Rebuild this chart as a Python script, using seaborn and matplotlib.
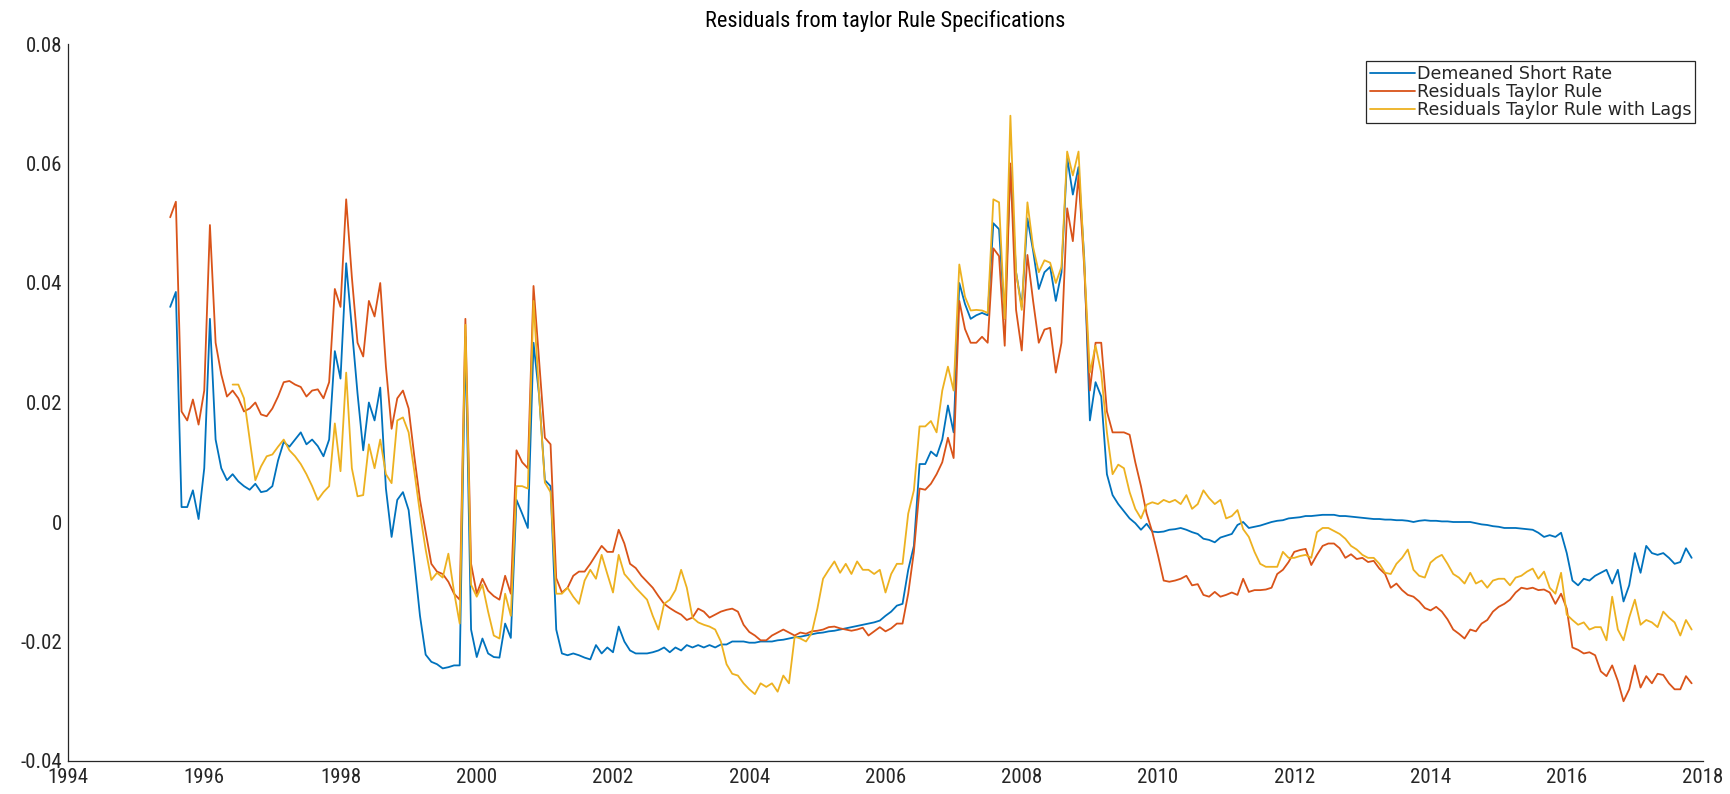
import numpy as np
import pandas as pd
import matplotlib
matplotlib.use("Agg")
import matplotlib.pyplot as plt
import seaborn as sns
from matplotlib import font_manager as fm

# ---------------- data ----------------
title = "Residuals from taylor Rule Specifications"
series_names = ["Demeaned Short Rate", "Residuals Taylor Rule", "Residuals Taylor Rule with Lags"]
series_colors = ["#0072BD", "#D95319", "#EDB120"]
start_year = 1995.5  # first monthly observation

short_rate = [
    0.036, 0.0385, 0.0025, 0.0025, 0.0053, 0.0005, 0.009, 0.034, 0.0138, 0.009, 0.007, 0.008,
    0.0068, 0.006, 0.0054, 0.0064, 0.005, 0.0052, 0.006, 0.0103, 0.0134, 0.0126, 0.0138, 0.015,
    0.013, 0.0138, 0.0127, 0.011, 0.0138, 0.0286, 0.024, 0.0433, 0.0325, 0.0215, 0.012, 0.020,
    0.017, 0.0225, 0.0056, -0.0025, 0.0037, 0.005, 0.002, -0.0066, -0.0157, -0.0222, -0.0234, -0.0238,
    -0.0245, -0.0243, -0.024, -0.024, 0.031, -0.018, -0.0226, -0.0195, -0.022, -0.0226, -0.0227, -0.017,
    -0.0194, 0.0037, 0.0014, -0.001, 0.030, 0.021, 0.007, 0.006, -0.018, -0.022, -0.0223, -0.022,
    -0.0223, -0.0227, -0.023, -0.0206, -0.022, -0.021, -0.0218, -0.0175, -0.020, -0.0215, -0.022, -0.022,
    -0.022, -0.0218, -0.0215, -0.021, -0.0218, -0.021, -0.0215, -0.0206, -0.021, -0.0206, -0.021, -0.0206,
    -0.021, -0.0205, -0.0205, -0.020, -0.020, -0.020, -0.0202, -0.0202, -0.020, -0.020, -0.020, -0.0198,
    -0.0197, -0.0195, -0.0193, -0.0192, -0.019, -0.0188, -0.0186, -0.0185, -0.0183, -0.0182, -0.018, -0.0178,
    -0.0176, -0.0174, -0.0172, -0.017, -0.0168, -0.0165, -0.0157, -0.015, -0.014, -0.0137, -0.008, -0.004,
    0.0097, 0.0097, 0.0118, 0.011, 0.0138, 0.0195, 0.015, 0.040, 0.0365, 0.034, 0.0346, 0.035,
    0.0346, 0.050, 0.049, 0.034, 0.0594, 0.0418, 0.036, 0.0508, 0.0454, 0.039, 0.0418, 0.0427,
    0.037, 0.0418, 0.061, 0.0548, 0.0594, 0.0443, 0.017, 0.0234, 0.021, 0.008, 0.0045, 0.003,
    0.0018, 0.0006, -0.0002, -0.0013, -0.0003, -0.0016, -0.0017, -0.0016, -0.0013, -0.0012, -0.001, -0.0013,
    -0.0017, -0.002, -0.0028, -0.003, -0.0034, -0.0026, -0.0023, -0.002, -0.0005, 0.0, -0.001, -0.0008,
    -0.0006, -0.0003, 0.0, 0.0002, 0.0003, 0.0006, 0.0007, 0.0008, 0.001, 0.001, 0.0011, 0.0012,
    0.0012, 0.0012, 0.001, 0.001, 0.0009, 0.0008, 0.0007, 0.0006, 0.0005, 0.0005, 0.0004, 0.0004,
    0.0003, 0.0003, 0.0002, 0.0, 0.0002, 0.0003, 0.0002, 0.0002, 0.0001, 0.0001, 0.0, 0.0,
    0.0, 0.0, -0.0002, -0.0004, -0.0005, -0.0007, -0.0008, -0.001, -0.001, -0.001, -0.0011, -0.0012,
    -0.0013, -0.0018, -0.0025, -0.0022, -0.0025, -0.0018, -0.0052, -0.0098, -0.0106, -0.0095, -0.0098, -0.009,
    -0.0085, -0.008, -0.0103, -0.008, -0.0133, -0.0106, -0.0052, -0.0085, -0.004, -0.0052, -0.0055, -0.0052,
    -0.006, -0.007, -0.0067, -0.0044, -0.006,
]

taylor = [
    0.051, 0.0536, 0.0185, 0.017, 0.0205, 0.0163, 0.022, 0.0497, 0.030, 0.0247, 0.021, 0.022,
    0.0207, 0.0185, 0.019, 0.020, 0.018, 0.0177, 0.019, 0.021, 0.0234, 0.0236, 0.023, 0.0226,
    0.021, 0.022, 0.0222, 0.0207, 0.0234, 0.039, 0.036, 0.054, 0.041, 0.030, 0.0277, 0.037,
    0.0344, 0.040, 0.026, 0.0156, 0.0207, 0.022, 0.019, 0.011, 0.0037, -0.0017, -0.007, -0.0083,
    -0.0087, -0.010, -0.012, -0.013, 0.034, -0.007, -0.012, -0.0095, -0.0115, -0.0124, -0.013, -0.009,
    -0.012, 0.012, 0.010, 0.009, 0.0395, 0.0269, 0.0141, 0.013, -0.0094, -0.0118, -0.011, -0.009,
    -0.0083, -0.0083, -0.007, -0.0055, -0.004, -0.005, -0.005, -0.0013, -0.0036, -0.007, -0.0077, -0.009,
    -0.010, -0.011, -0.0124, -0.0137, -0.0144, -0.015, -0.0155, -0.0164, -0.016, -0.0145, -0.015, -0.016,
    -0.0155, -0.015, -0.0147, -0.0145, -0.015, -0.0172, -0.0184, -0.019, -0.0198, -0.0198, -0.019, -0.0185,
    -0.018, -0.0185, -0.019, -0.0185, -0.0187, -0.0183, -0.0182, -0.018, -0.0176, -0.0175, -0.0178, -0.018,
    -0.0182, -0.018, -0.0177, -0.019, -0.0183, -0.0176, -0.0183, -0.0178, -0.017, -0.017, -0.012, -0.005,
    0.0056, 0.0054, 0.0064, 0.008, 0.010, 0.0141, 0.0107, 0.037, 0.0323, 0.030, 0.030, 0.031,
    0.030, 0.0458, 0.0445, 0.0295, 0.060, 0.0355, 0.0287, 0.0447, 0.037, 0.030, 0.0322, 0.0325,
    0.025, 0.030, 0.0525, 0.047, 0.058, 0.0427, 0.022, 0.030, 0.030, 0.0185, 0.015, 0.015,
    0.015, 0.0146, 0.010, 0.006, 0.0014, -0.0017, -0.0056, -0.0098, -0.010, -0.0098, -0.0095, -0.009,
    -0.0106, -0.0104, -0.0122, -0.0125, -0.0117, -0.0125, -0.0122, -0.0118, -0.0122, -0.0095, -0.0117, -0.0114,
    -0.0114, -0.0113, -0.011, -0.0087, -0.008, -0.0067, -0.005, -0.0047, -0.0045, -0.0072, -0.0055, -0.004,
    -0.0036, -0.0036, -0.0044, -0.006, -0.0054, -0.0062, -0.006, -0.0067, -0.0065, -0.0078, -0.0087, -0.011,
    -0.0103, -0.0114, -0.0122, -0.0125, -0.0133, -0.0144, -0.0148, -0.0142, -0.015, -0.0163, -0.018, -0.0187,
    -0.0195, -0.018, -0.0183, -0.017, -0.0164, -0.015, -0.0142, -0.0137, -0.013, -0.0118, -0.011, -0.0112,
    -0.011, -0.0114, -0.0113, -0.0118, -0.0137, -0.012, -0.0145, -0.021, -0.0214, -0.022, -0.0218, -0.0223,
    -0.025, -0.0258, -0.024, -0.0266, -0.030, -0.028, -0.024, -0.0277, -0.0258, -0.027, -0.0254, -0.0256,
    -0.027, -0.028, -0.028, -0.0258, -0.027,
]

nan = np.nan
taylor_lags = [
    nan, nan, nan, nan, nan, nan, nan, nan, nan, nan, nan, 0.023,
    0.023, 0.0207, 0.0138, 0.007, 0.0093, 0.011, 0.0113, 0.0126, 0.0138, 0.012, 0.011, 0.0097,
    0.008, 0.006, 0.0037, 0.005, 0.006, 0.0165, 0.0085, 0.025, 0.009, 0.0043, 0.0045, 0.013,
    0.009, 0.0138, 0.008, 0.0065, 0.017, 0.0175, 0.015, 0.0085, 0.0015, -0.0046, -0.0097, -0.0085,
    -0.0093, -0.0053, -0.0117, -0.017, 0.033, -0.0105, -0.0125, -0.0105, -0.015, -0.019, -0.0195, -0.012,
    -0.0157, 0.006, 0.006, 0.0056, 0.037, 0.021, 0.0066, 0.005, -0.012, -0.012, -0.011, -0.0125,
    -0.0137, -0.0098, -0.008, -0.0095, -0.0055, -0.0087, -0.0118, -0.0055, -0.0087, -0.0098, -0.011, -0.012,
    -0.013, -0.0157, -0.018, -0.0137, -0.013, -0.0114, -0.008, -0.011, -0.016, -0.0168, -0.0172, -0.0175,
    -0.018, -0.020, -0.0238, -0.0254, -0.0257, -0.027, -0.028, -0.0288, -0.027, -0.0276, -0.027, -0.0284,
    -0.0257, -0.027, -0.0192, -0.0195, -0.020, -0.0186, -0.0145, -0.0095, -0.008, -0.0066, -0.0085, -0.007,
    -0.0087, -0.0066, -0.008, -0.008, -0.0087, -0.008, -0.0118, -0.0087, -0.007, -0.007, 0.0014, 0.0053,
    0.016, 0.016, 0.0169, 0.015, 0.022, 0.026, 0.022, 0.0431, 0.0377, 0.0354, 0.0355, 0.0354,
    0.035, 0.054, 0.0535, 0.034, 0.068, 0.0418, 0.0355, 0.0535, 0.046, 0.0418, 0.0438, 0.0434,
    0.040, 0.0427, 0.062, 0.058, 0.062, 0.0434, 0.025, 0.0295, 0.025, 0.015, 0.008, 0.0096,
    0.009, 0.005, 0.0022, 0.0006, 0.0029, 0.0033, 0.003, 0.0037, 0.0033, 0.0037, 0.003, 0.0045,
    0.0022, 0.003, 0.0053, 0.004, 0.003, 0.0037, 0.0006, 0.001, 0.002, -0.0012, -0.0025, -0.005,
    -0.007, -0.0075, -0.0075, -0.0075, -0.005, -0.006, -0.006, -0.0057, -0.0055, -0.006, -0.0017, -0.001,
    -0.001, -0.0015, -0.002, -0.0028, -0.004, -0.0046, -0.0055, -0.006, -0.006, -0.007, -0.0085, -0.0087,
    -0.007, -0.006, -0.0046, -0.008, -0.009, -0.0093, -0.0068, -0.006, -0.0055, -0.007, -0.0087, -0.0093,
    -0.0103, -0.0085, -0.0103, -0.0098, -0.011, -0.0098, -0.0095, -0.0095, -0.0106, -0.0093, -0.009, -0.0083,
    -0.0078, -0.0095, -0.0083, -0.011, -0.012, -0.0085, -0.0155, -0.0164, -0.0172, -0.0168, -0.018, -0.0176,
    -0.0176, -0.0198, -0.0125, -0.018, -0.0198, -0.016, -0.013, -0.0172, -0.0164, -0.0168, -0.0176, -0.015,
    -0.016, -0.0168, -0.019, -0.0164, -0.018,
]

x_ticks = [1994, 1996, 1998, 2000, 2002, 2004, 2006, 2008, 2010, 2012, 2014, 2016, 2018]
y_ticks = [-0.04, -0.02, 0.0, 0.02, 0.04, 0.06, 0.08]
y_tick_labels = ["-0.04", "-0.02", "0", "0.02", "0.04", "0.06", "0.08"]

# ---------------- frame ----------------
frames = []
for name, vals in zip(series_names, [short_rate, taylor, taylor_lags]):
    v = np.asarray(vals, dtype=float)
    yrs = start_year + np.arange(len(v)) / 12.0
    frames.append(pd.DataFrame({"year": yrs, "value": v, "series": name}))
df = pd.concat(frames, ignore_index=True).dropna()

# ---------------- style ----------------
sns.set_theme(style="white")
avail = {f.name for f in fm.fontManager.ttflist}
def pick(cands):
    for c in cands:
        if c in avail:
            return c
    return "DejaVu Sans"
narrow = pick(["Liberation Sans Narrow", "DejaVu Sans Condensed", "Roboto Condensed", "Liberation Sans"])
plt.rcParams["font.family"] = [narrow, "DejaVu Sans"]

ink = "#262626"
fig = plt.figure(figsize=(17.31, 7.94), dpi=100)
ax = fig.add_axes([68 / 1731, 33 / 794, (1703 - 68) / 1731, (761 - 44) / 794])

sns.lineplot(data=df, x="year", y="value", hue="series", hue_order=series_names,
             palette=dict(zip(series_names, series_colors)), estimator=None, sort=False,
             linewidth=1.3, ax=ax)

ax.set_xlim(1994, 2018)
ax.set_ylim(-0.04, 0.08)
ax.set_xticks(x_ticks)
ax.set_xticklabels([str(t) for t in x_ticks])
ax.set_yticks(y_ticks)
ax.set_yticklabels(y_tick_labels)
ax.set_xlabel("")
ax.set_ylabel("")
ax.tick_params(direction="in", length=11, width=0.9, color=ink, labelcolor=ink, labelsize=15)
ax.tick_params(axis="x", pad=5)
ax.tick_params(axis="y", pad=4)
for s in ["top", "right"]:
    ax.spines[s].set_visible(False)
for s in ["left", "bottom"]:
    ax.spines[s].set_color(ink)
    ax.spines[s].set_linewidth(0.9)

ax.set_title(title, fontsize=16, color="black", pad=12)

handles, labels = ax.get_legend_handles_labels()
leg = ax.legend(handles, labels, loc="upper right", bbox_to_anchor=(0.995, 0.976),
                borderaxespad=0, frameon=True, fancybox=False, framealpha=1,
                edgecolor=ink, prop={"family": "DejaVu Sans", "size": 12.6},
                handlelength=2.6, handletextpad=0.1, labelspacing=0.02, borderpad=0.2)
leg.get_frame().set_linewidth(0.9)
for line in leg.get_lines():
    line.set_linewidth(1.3)

fig.savefig("out.png", dpi=100, facecolor="white")
